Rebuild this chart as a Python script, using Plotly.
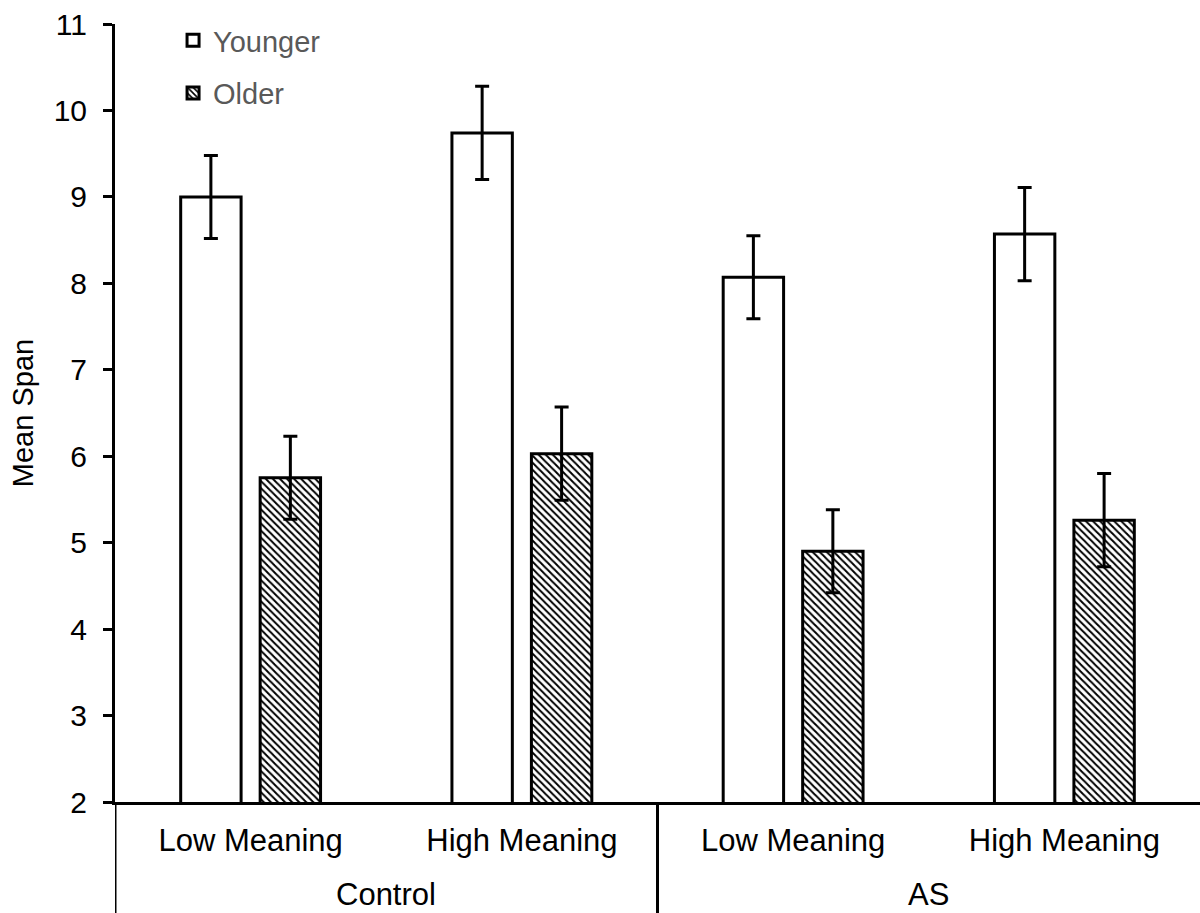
import plotly.graph_objects as go

# Category layout: two subject groups, each with a low/high meaning condition
groups = ["Control", "AS"]
conditions = ["Low Meaning", "High Meaning", "Low Meaning", "High Meaning"]
group_of_condition = ["Control", "Control", "AS", "AS"]

# Mean span and error (half-length) per age group
younger_mean = [9.00, 9.74, 8.07, 8.57]
younger_err = [0.48, 0.54, 0.48, 0.54]
older_mean = [5.75, 6.03, 4.90, 5.26]
older_err = [0.48, 0.54, 0.48, 0.54]

y_ticks = [2, 3, 4, 5, 6, 7, 8, 9, 10, 11]

FONT = "Liberation Sans, Arial, sans-serif"
pos = list(range(len(conditions)))

fig = go.Figure()
fig.add_trace(go.Bar(
    name="Younger", x=pos, y=younger_mean, legendgroup="y",
    marker=dict(color="white", line=dict(color="black", width=3)),
    error_y=dict(type="data", array=younger_err, visible=True,
                 color="black", thickness=3, width=7),
))
fig.add_trace(go.Bar(
    name="Older", x=pos, y=older_mean, legendgroup="o",
    marker=dict(color="white", line=dict(color="black", width=3),
                pattern=dict(shape="\\", fgcolor="black", bgcolor="white",
                             size=5, solidity=0.4)),
    error_y=dict(type="data", array=older_err, visible=True,
                 color="black", thickness=3, width=7),
))

PLOT_TOP, PLOT_BOTTOM, FIG_H = 24, 802, 913
plot_h = PLOT_BOTTOM - PLOT_TOP
below = -(FIG_H - PLOT_BOTTOM) / plot_h  # paper y of the figure's bottom edge

# Outer group labels centred under each pair of conditions
for g in groups:
    idx = [i for i, name in enumerate(group_of_condition) if name == g]
    fig.add_annotation(
        x=sum(idx) / len(idx), xref="x", y=(PLOT_BOTTOM - 894) / plot_h, yref="paper",
        text=g, showarrow=False, xanchor="center", yanchor="middle",
        font=dict(family=FONT, size=31, color="black"),
    )

# Group dividers running from the category axis down to the bottom edge
for i in range(len(group_of_condition)):
    if i == 0 or group_of_condition[i] != group_of_condition[i - 1]:
        fig.add_shape(type="line", xref="x", yref="paper",
                      x0=i - 0.5, x1=i - 0.5, y0=0, y1=below,
                      line=dict(color="black", width=3))

fig.update_layout(
    template="none",
    width=1200, height=FIG_H,
    margin=dict(l=115, r=0, t=PLOT_TOP, b=FIG_H - PLOT_BOTTOM, autoexpand=False),
    paper_bgcolor="white", plot_bgcolor="white",
    font=dict(family=FONT, size=30, color="black"),
    barmode="group", bargap=0.414, bargroupgap=0.24,
    legend=dict(x=0.0535, y=1.0116, xanchor="left", yanchor="top",
                bgcolor="rgba(0,0,0,0)", borderwidth=0, tracegroupgap=12,
                font=dict(family=FONT, size=29, color="#595959")),
    showlegend=True,
)
fig.update_xaxes(
    range=[-0.5, 3.5], tickvals=pos, ticktext=conditions,
    showline=True, linecolor="black", linewidth=3,
    ticks="", showgrid=False, zeroline=False, ticklabelstandoff=9,
    tickfont=dict(family=FONT, size=31, color="black"),
)
fig.update_yaxes(
    range=[2, 11], tickvals=y_ticks, showgrid=False, zeroline=False,
    showline=True, linecolor="black", linewidth=3,
    ticks="outside", ticklen=9, tickwidth=3, tickcolor="black",
    ticklabelstandoff=10,
    tickfont=dict(family=FONT, size=30, color="black"),
    title=dict(text="Mean Span", font=dict(family=FONT, size=29, color="black"),
               standoff=12),
)

fig.write_html("out.html")
